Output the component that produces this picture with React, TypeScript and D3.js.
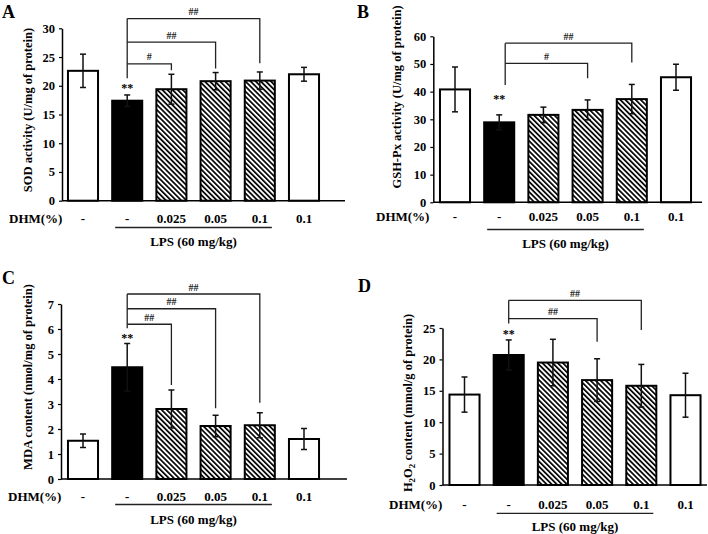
import React, { useRef, useEffect } from "react";
import * as d3 from "d3";

// groups along the x axis
const dhmLabels = ["-", "-", "0.025", "0.05", "0.1", "0.1"];
const barKinds = ["open", "solid", "hatch", "hatch", "hatch", "open"];

// A - SOD
const sodMean = [22.6, 17.4, 19.4, 20.8, 20.9, 22.0];
const sodErr = [2.9, 1.0, 2.6, 1.5, 1.5, 1.2];
const sodTicks = [0, 5, 10, 15, 20, 25, 30];
const sodBrackets = [
  { to: 4, level: 31.7, drop: 23.9, label: "##" },
  { to: 3, level: 27.6, drop: 23.0, label: "##" },
  { to: 2, level: 23.8, drop: 22.7, label: "#" },
];

// B - GSH-Px
const gshMean = [40.8, 28.9, 31.6, 33.4, 37.3, 45.2];
const gshErr = [8.1, 2.7, 2.8, 3.6, 5.3, 4.7];
const gshTicks = [0, 10, 20, 30, 40, 50, 60];
const gshBrackets = [
  { to: 4, level: 57.5, drop: 50.5, label: "##" },
  { to: 3, level: 50.2, drop: 44.8, label: "#" },
];

// C - MDA
const mdaMean = [1.53, 4.47, 2.8, 2.12, 2.15, 1.6];
const mdaErr = [0.27, 0.95, 0.76, 0.43, 0.5, 0.42];
const mdaTicks = [0, 1, 2, 3, 4, 5, 6, 7];
const mdaBrackets = [
  { to: 4, level: 7.4, drop: 3.05, label: "##" },
  { to: 3, level: 6.81, drop: 2.83, label: "##" },
  { to: 2, level: 6.19, drop: 3.76, label: "##" },
];

// D - H2O2
const h2o2Mean = [14.4, 20.7, 19.5, 16.7, 15.8, 14.3];
const h2o2Err = [2.8, 2.4, 3.7, 3.4, 3.4, 3.5];
const h2o2Ticks = [0, 5, 10, 15, 20, 25];
const h2o2Brackets = [
  { to: 4, level: 29.4, drop: 24.7, label: "##" },
  { to: 3, level: 26.5, drop: 22.8, label: "##" },
];

const FONT = "'Liberation Serif', 'Times New Roman', serif";

const panels = [
  {
    letter: "A", letterPos: [2, 18], label: ["SOD activity (U/mg of protein)"], labelPos: [28, 110],
    mean: sodMean, err: sodErr, ticks: sodTicks, brackets: sodBrackets, stemEnd: 21.3, star: 19.8,
    axisX: 62, band: [60.9, 326.1], yRange: [200.7, 28.3], baseEnd: 345,
    dhmX: 9, dhmY: 223, lineY: 227.5, lpsY: 246, stemDx: 0,
  },
  {
    letter: "B", letterPos: [357, 18], label: ["GSH-Px activity (U/mg of protein)"], labelPos: [397, 97],
    mean: gshMean, err: gshErr, ticks: gshTicks, brackets: gshBrackets, stemEnd: 42.4, star: 37.8,
    axisX: 433.3, band: [432.9, 698.1], yRange: [202.3, 36.3], baseEnd: 702,
    dhmX: 376, dhmY: 221, lineY: 229.5, lpsY: 247.5, stemDx: 6,
  },
  {
    letter: "C", letterPos: [2, 284], label: ["MDA content (nmol/mg of protein)"], labelPos: [28, 377],
    mean: mdaMean, err: mdaErr, ticks: mdaTicks, brackets: mdaBrackets, stemEnd: 6.03, star: 5.67,
    axisX: 61, band: [60.9, 326.1], yRange: [479, 304], baseEnd: 347,
    dhmX: 8, dhmY: 500.5, lineY: 504.5, lpsY: 524, stemDx: 0,
  },
  {
    letter: "D", letterPos: [358, 292], label: ["H", "2", "O", "2", " content (mmol/g of protein)"], labelPos: [408, 403],
    mean: h2o2Mean, err: h2o2Err, ticks: h2o2Ticks, brackets: h2o2Brackets, stemEnd: 25.7, star: 24.25,
    axisX: 442.5, band: [442.4, 707.6], yRange: [485, 328], baseEnd: 707,
    dhmX: 389, dhmY: 508.5, lineY: 513.3, lpsY: 530.5, stemDx: 0,
  },
];

const drawPanel = (svg: any, p: any) => {
  const g = svg.append("g").attr("font-family", FONT).attr("font-weight", "bold").attr("fill", "#000");
  const idx = p.mean.map((_: number, i: number) => i);
  const x = d3.scaleBand().domain(idx).range(p.band).paddingInner(0.32).paddingOuter(0.16);
  const y = d3
    .scaleLinear()
    .domain([0, p.ticks[p.ticks.length - 1]])
    .range(p.yRange);
  const bw = x.bandwidth();
  const cx = (i: number) => x(i) + bw / 2;

  // bars
  g.selectAll("rect.bar")
    .data(p.mean)
    .enter()
    .append("rect")
    .attr("x", (d: number, i: number) => x(i))
    .attr("y", (d: number) => y(d))
    .attr("width", bw)
    .attr("height", (d: number) => y(0) - y(d))
    .attr("fill", (d: number, i: number) =>
      barKinds[i] === "solid" ? "#000" : barKinds[i] === "hatch" ? "url(#hatch)" : "#fff"
    )
    .attr("stroke", "#000")
    .attr("stroke-width", 2);

  // error bars
  p.mean.forEach((m: number, i: number) => {
    const e = p.err[i];
    const eg = g.append("g").attr("stroke", "#111").attr("stroke-width", 1.5);
    eg.append("line").attr("x1", cx(i)).attr("x2", cx(i)).attr("y1", y(m + e)).attr("y2", y(m - e));
    eg.append("line").attr("x1", cx(i) - 3).attr("x2", cx(i) + 3).attr("y1", y(m + e)).attr("y2", y(m + e));
    eg.append("line").attr("x1", cx(i) - 3).attr("x2", cx(i) + 3).attr("y1", y(m - e)).attr("y2", y(m - e));
  });

  // y axis
  const ax = g
    .append("g")
    .attr("transform", `translate(${p.axisX},0)`)
    .call(
      d3.axisLeft(y).tickValues(p.ticks).tickFormat(d3.format("d")).tickSize(3).tickSizeOuter(0).tickPadding(4)
    );
  ax.select(".domain").attr("stroke", "#000").attr("stroke-width", 1.5);
  ax.selectAll(".tick line").attr("stroke", "#000").attr("stroke-width", 1.2);
  ax.selectAll(".tick text")
    .attr("font-family", FONT)
    .attr("font-weight", "bold")
    .attr("font-size", 12.5)
    .attr("fill", "#000");

  // baseline
  g.append("line")
    .attr("x1", p.axisX)
    .attr("x2", p.baseEnd)
    .attr("y1", y(0))
    .attr("y2", y(0))
    .attr("stroke", "#000")
    .attr("stroke-width", 1.5);

  // significance brackets from the LPS group
  const x0 = cx(1) + p.stemDx;
  const top = d3.max(p.brackets, (b: any) => b.level);
  const bg = g.append("g").attr("stroke", "#222").attr("stroke-width", 1.3).attr("fill", "none");
  bg.append("line").attr("x1", x0).attr("x2", x0).attr("y1", y(top)).attr("y2", y(p.stemEnd));
  p.brackets.forEach((b: any) => {
    const x1 = cx(b.to);
    bg.append("path").attr("d", `M${x0},${y(b.level)}H${x1}V${y(b.drop)}`);
    g.append("text")
      .attr("x", (x0 + x1) / 2)
      .attr("y", y(b.level) - 3.5)
      .attr("text-anchor", "middle")
      .attr("font-size", 10)
      .attr("fill", "#222")
      .text(b.label);
  });
  g.append("text")
    .attr("x", cx(1))
    .attr("y", y(p.star) + 5)
    .attr("text-anchor", "middle")
    .attr("font-size", 12)
    .attr("fill", "#000")
    .text("**");

  // x labels
  g.append("text").attr("x", p.dhmX).attr("y", p.dhmY).attr("font-size", 13).text("DHM(%)");
  g.selectAll("text.dhm")
    .data(dhmLabels)
    .enter()
    .append("text")
    .attr("x", (d: string, i: number) => cx(i))
    .attr("y", p.dhmY)
    .attr("text-anchor", "middle")
    .attr("font-size", 13)
    .text((d: string) => d);
  const lx1 = x(1) + 3;
  const lx2 = x(4) + bw - 3;
  g.append("line")
    .attr("x1", lx1)
    .attr("x2", lx2)
    .attr("y1", p.lineY)
    .attr("y2", p.lineY)
    .attr("stroke", "#222")
    .attr("stroke-width", 1.3);
  g.append("text")
    .attr("x", (lx1 + lx2) / 2)
    .attr("y", p.lpsY)
    .attr("text-anchor", "middle")
    .attr("font-size", 13)
    .text("LPS (60 mg/kg)");

  // y title, with subscripts where needed
  const t = g
    .append("text")
    .attr("transform", `translate(${p.labelPos[0] + 4},${p.labelPos[1]}) rotate(-90)`)
    .attr("text-anchor", "middle")
    .attr("font-size", 12.5);
  let prevSub = false;
  p.label.forEach((s: string) => {
    const sub = s === "2";
    const dy = sub ? 3 : prevSub ? -3 : 0;
    t.append("tspan")
      .attr("font-size", sub ? 9 : 12.5)
      .attr("dy", dy)
      .text(s);
    prevSub = sub;
  });

  // panel letter
  g.append("text")
    .attr("x", p.letterPos[0])
    .attr("y", p.letterPos[1])
    .attr("font-size", 18)
    .text(p.letter);
};

const App = () => {
  const svgRef = useRef<SVGSVGElement>(null);

  useEffect(() => {
    const svg = d3.select(svgRef.current);
    svg.selectAll("*").remove();

    const pat = svg
      .append("defs")
      .append("pattern")
      .attr("id", "hatch")
      .attr("patternUnits", "userSpaceOnUse")
      .attr("width", 3.6)
      .attr("height", 3.6)
      .attr("patternTransform", "rotate(-45)");
    pat.append("rect").attr("width", 3.6).attr("height", 3.6).attr("fill", "#fff");
    pat.append("rect").attr("x", 0).attr("y", 0).attr("width", 1.7).attr("height", 3.6).attr("fill", "#000");

    panels.forEach((p) => drawPanel(svg, p));
  }, []);

  return (
    <svg
      ref={svgRef}
      width={708}
      height={534}
      style={{ position: "absolute", left: 0, top: 0, background: "#fff" }}
    />
  );
};

export default App;
